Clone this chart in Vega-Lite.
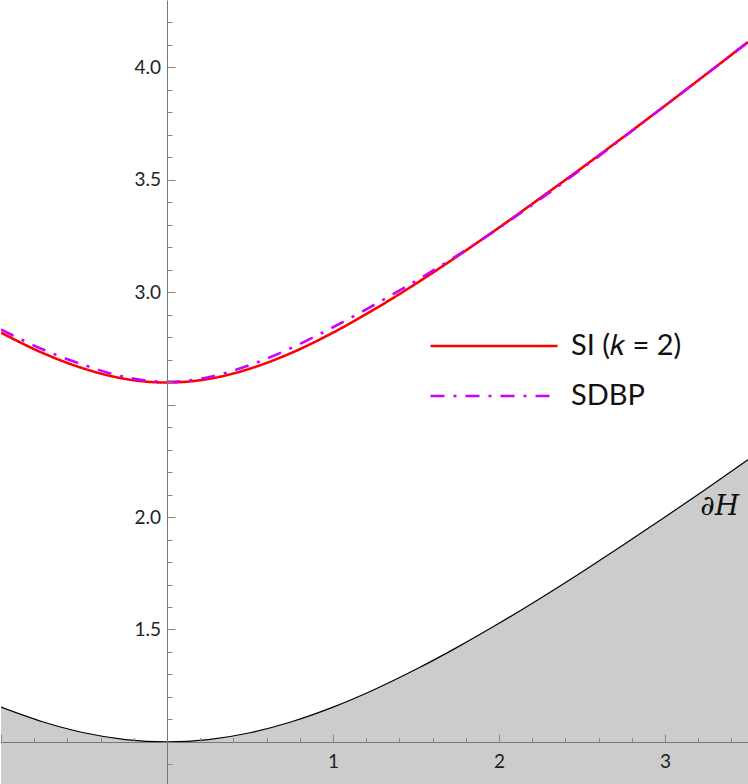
{
  "$schema": "https://vega.github.io/schema/vega-lite/v6.json",
  "width": 748,
  "height": 784,
  "autosize": {"type": "fit", "contains": "padding"},
  "padding": 0,
  "background": "white",
  "config": {"view": {"stroke": null}, "axis": {"labelOverlap": false, "labelFlush": false, "labelBound": false, "grid": false, "title": null, "domainColor": "#777777", "tickColor": "#888888", "domainWidth": 1, "labelFont": "Lato", "labelFontSize": 19, "labelColor": "#222222"}},
  "resolve": {"axis": {"x": "independent", "y": "independent"}},
  "datasets": {
    "curves": [
      {"x": -1, "y": 2.820, "series": "SI (𝑘 = 2)"},
      {"x": -0.75, "y": 2.730, "series": "SI (𝑘 = 2)"},
      {"x": -0.5, "y": 2.660, "series": "SI (𝑘 = 2)"},
      {"x": -0.25, "y": 2.614, "series": "SI (𝑘 = 2)"},
      {"x": 0, "y": 2.598, "series": "SI (𝑘 = 2)"},
      {"x": 0.25, "y": 2.614, "series": "SI (𝑘 = 2)"},
      {"x": 0.5, "y": 2.660, "series": "SI (𝑘 = 2)"},
      {"x": 0.75, "y": 2.730, "series": "SI (𝑘 = 2)"},
      {"x": 1, "y": 2.820, "series": "SI (𝑘 = 2)"},
      {"x": 1.25, "y": 2.924, "series": "SI (𝑘 = 2)"},
      {"x": 1.5, "y": 3.038, "series": "SI (𝑘 = 2)"},
      {"x": 1.75, "y": 3.160, "series": "SI (𝑘 = 2)"},
      {"x": 2, "y": 3.287, "series": "SI (𝑘 = 2)"},
      {"x": 2.25, "y": 3.419, "series": "SI (𝑘 = 2)"},
      {"x": 2.5, "y": 3.553, "series": "SI (𝑘 = 2)"},
      {"x": 2.75, "y": 3.690, "series": "SI (𝑘 = 2)"},
      {"x": 3, "y": 3.829, "series": "SI (𝑘 = 2)"},
      {"x": 3.25, "y": 3.970, "series": "SI (𝑘 = 2)"},
      {"x": 3.5, "y": 4.112, "series": "SI (𝑘 = 2)"},
      {"x": -1, "y": 2.834, "series": "SDBP"},
      {"x": -0.75, "y": 2.746, "series": "SDBP"},
      {"x": -0.5, "y": 2.676, "series": "SDBP"},
      {"x": -0.25, "y": 2.622, "series": "SDBP"},
      {"x": 0, "y": 2.601, "series": "SDBP"},
      {"x": 0.25, "y": 2.622, "series": "SDBP"},
      {"x": 0.5, "y": 2.676, "series": "SDBP"},
      {"x": 0.75, "y": 2.752, "series": "SDBP"},
      {"x": 1, "y": 2.844, "series": "SDBP"},
      {"x": 1.25, "y": 2.944, "series": "SDBP"},
      {"x": 1.5, "y": 3.050, "series": "SDBP"},
      {"x": 1.75, "y": 3.164, "series": "SDBP"},
      {"x": 2, "y": 3.285, "series": "SDBP"},
      {"x": 2.25, "y": 3.414, "series": "SDBP"},
      {"x": 2.5, "y": 3.549, "series": "SDBP"},
      {"x": 2.75, "y": 3.688, "series": "SDBP"},
      {"x": 3, "y": 3.829, "series": "SDBP"},
      {"x": 3.25, "y": 3.970, "series": "SDBP"},
      {"x": 3.5, "y": 4.112, "series": "SDBP"}
    ],
    "boundary": [
      {"x": -1, "y": 1.1547},
      {"x": -0.75, "y": 1.0897},
      {"x": -0.5, "y": 1.0408},
      {"x": -0.25, "y": 1.0104},
      {"x": 0, "y": 1.0},
      {"x": 0.25, "y": 1.0104},
      {"x": 0.5, "y": 1.0408},
      {"x": 0.75, "y": 1.0897},
      {"x": 1, "y": 1.1547},
      {"x": 1.25, "y": 1.2332},
      {"x": 1.5, "y": 1.3229},
      {"x": 1.75, "y": 1.4216},
      {"x": 2, "y": 1.5275},
      {"x": 2.25, "y": 1.6394},
      {"x": 2.5, "y": 1.7559},
      {"x": 2.75, "y": 1.8764},
      {"x": 3, "y": 2.0},
      {"x": 3.25, "y": 2.1262},
      {"x": 3.5, "y": 2.2546}
    ],
    "labels": [
      {"x": 3.33, "y": 2.01, "text": "∂H"}
    ]
  },
  "layer": [
    {
      "data": {"name": "boundary"},
      "mark": {"type": "area", "color": "#cccccc", "interpolate": "monotone", "clip": true},
      "encoding": {
        "x": {"field": "x", "type": "quantitative",
          "scale": {"domain": [-1, 3.5], "nice": false, "zero": false},
          "axis": {
            "orient": "bottom", "offset": -42, "zindex": 2,
            "values": [-1, 0, 1, 2, 3],
            "tickSize": -8,
            "labelExpr": "datum.value > 0.5 ? format(datum.value, 'd') : ''",
            "labelPadding": 18
          }},
        "y": {"field": "y", "type": "quantitative",
          "scale": {"domain": [0.813, 4.299], "nice": false, "zero": false},
          "axis": {
            "orient": "left", "offset": -166, "zindex": 2,
            "values": [1.5, 2.0, 2.5, 3.0, 3.5, 4.0],
            "tickSize": -8,
            "labelExpr": "round(datum.value*10) == 25 ? '' : format(datum.value, '.1f')",
            "labelPadding": 14.5
          }},
        "y2": {"datum": 0.813}
      }
    },
    {
      "data": {"name": "boundary"},
      "mark": {"type": "line", "color": "black", "strokeWidth": 1.2, "interpolate": "monotone", "clip": true},
      "encoding": {
        "x": {"field": "x", "type": "quantitative",
          "axis": {
            "orient": "bottom", "offset": -42, "domain": false, "labels": false, "zindex": 2,
            "values": [-0.8, -0.6, -0.4, -0.2, 0.2, 0.4, 0.6, 0.8, 1.2, 1.4, 1.6, 1.8, 2.2, 2.4, 2.6, 2.8, 3.2, 3.4],
            "tickSize": -4.5
          }},
        "y": {"field": "y", "type": "quantitative",
          "axis": {
            "orient": "left", "offset": -166, "domain": false, "labels": false, "zindex": 2,
            "values": [0.9, 1.1, 1.2, 1.3, 1.4, 1.6, 1.7, 1.8, 1.9, 2.1, 2.2, 2.3, 2.4, 2.6, 2.7, 2.8, 2.9, 3.1, 3.2, 3.3, 3.4, 3.6, 3.7, 3.8, 3.9, 4.1, 4.2],
            "tickSize": -5
          }}
      }
    },
    {
      "data": {"name": "curves"},
      "mark": {"type": "line", "strokeWidth": 2.6, "interpolate": "monotone", "clip": true, "strokeCap": "butt"},
      "encoding": {
        "x": {"field": "x", "type": "quantitative", "axis": null},
        "y": {"field": "y", "type": "quantitative", "axis": null},
        "color": {"field": "series", "type": "nominal",
          "scale": {"domain": ["SI (𝑘 = 2)", "SDBP"], "range": ["#ff0000", "#cc00ff"]},
          "legend": {
            "title": null, "orient": "none", "legendX": 428, "legendY": 321,
            "symbolType": "stroke", "symbolSize": 16129, "symbolStrokeWidth": 2.4, "clipHeight": 50,
            "labelFont": "Lato", "labelFontSize": 29, "labelColor": "#111111", "labelOffset": 12, "labelLimit": 0,
            "rowPadding": 0
          }},
        "strokeDash": {"field": "series", "type": "nominal",
          "scale": {"domain": ["SI (𝑘 = 2)", "SDBP"], "range": [[1, 0], [14, 9, 3, 9]]},
          "legend": {
            "title": null, "orient": "none", "legendX": 428, "legendY": 321,
            "symbolType": "stroke", "symbolSize": 16129, "symbolStrokeWidth": 2.4, "clipHeight": 50,
            "labelFont": "Lato", "labelFontSize": 29, "labelColor": "#111111", "labelOffset": 12, "labelLimit": 0,
            "rowPadding": 0
          }},
        "order": {"field": "series", "sort": "descending"}
      }
    },
    {
      "data": {"name": "labels"},
      "mark": {"type": "text", "font": "DejaVu Serif", "fontStyle": "italic", "fontSize": 28, "align": "center", "baseline": "alphabetic", "color": "#111111"},
      "encoding": {
        "x": {"field": "x", "type": "quantitative", "axis": null},
        "y": {"field": "y", "type": "quantitative", "axis": null},
        "text": {"field": "text"}
      }
    }
  ]
}
